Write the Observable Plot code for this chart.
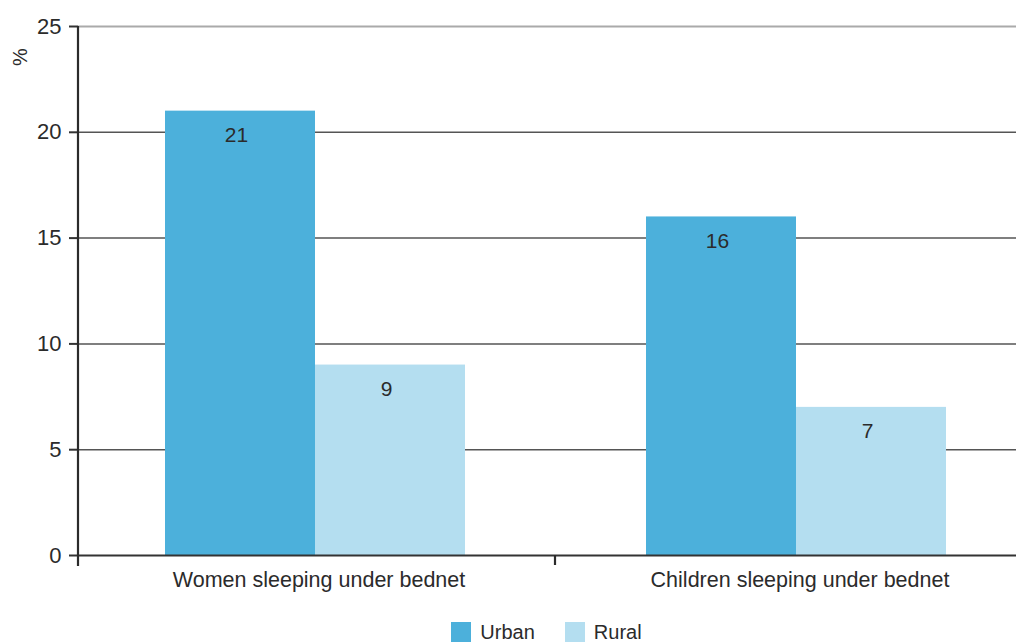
<!DOCTYPE html>
<html>
<head>
<meta charset="utf-8">
<script src="https://cdn.jsdelivr.net/npm/d3@7"></script>
<script src="https://cdn.jsdelivr.net/npm/@observablehq/plot@0.6"></script>
<style>
  html, body { margin: 0; padding: 0; background: #fff; overflow: hidden; }
  body { width: 1016px; height: 642px; font-family: "Liberation Sans", Arial, sans-serif; color: #2b2b2b; }
  #legend { display: flex; justify-content: center; align-items: center; padding-left: 77px; gap: 30px; margin-top: 12px; font-size: 20px; height: 20px; }
  #legend .item { display: flex; align-items: center; gap: 9px; }
  #legend .sw { width: 20px; height: 20px; display: inline-block; }
</style>
</head>
<body>
<div id="chart"></div>
<div id="legend"></div>
<script>
const categories = ["Women sleeping under bednet", "Children sleeping under bednet"];
const areas = ["Urban", "Rural"];
const urbanValues = [21, 16];
const ruralValues = [9, 7];
const yTicks = [0, 5, 10, 15, 20, 25];
const colors = ["#4cb0db", "#b4def0"];

const data = categories.flatMap((c, i) => [
  {category: c, area: "Urban", value: urbanValues[i]},
  {category: c, area: "Rural", value: ruralValues[i]}
]);

const plot = Plot.plot({
  width: 1016,
  height: 610,
  marginLeft: 77,
  marginRight: -24,
  marginTop: 26,
  marginBottom: 55,
  style: {fontFamily: "'Liberation Sans', Arial, sans-serif", fontSize: "20px", color: "#2b2b2b", background: "#fff"},
  fx: {domain: categories, padding: 0, label: null},
  x: {domain: areas, paddingInner: 0, paddingOuter: 0.594, align: 0.48, axis: null},
  y: {domain: [0, 25], label: null},
  color: {domain: areas, range: colors},
  marks: [
    Plot.gridY([5, 10, 15, 20], {stroke: "#555", strokeOpacity: 1, strokeWidth: 1.5}),
    Plot.gridY([25], {stroke: "#aaa", strokeOpacity: 1, strokeWidth: 2}),
    Plot.barY(data, {fx: "category", x: "area", y: "value", fill: "area"}),
    Plot.text(data, {fx: "category", x: "area", y: "value", text: d => String(d.value), dy: 24, dx: -4, fontSize: 21, fill: "#2b2b2b"}),
    Plot.ruleY([0], {stroke: "#333", strokeWidth: 2}),
    Plot.axisY({ticks: yTicks, tickSize: 9, tickPadding: 8, anchor: "left", fontSize: 22, tickFormat: d => String(d), label: null, stroke: "#333", strokeWidth: 2}),
    Plot.axisFx({anchor: "bottom", tickSize: 0, tickPadding: 16, label: null, fontSize: 21.5})
  ]
});

document.getElementById("chart").appendChild(plot);

// axis line and category boundary ticks, placed through the plot's own scales
const svg = d3.select(plot);
const fx = plot.scale("fx");
const y = plot.scale("y");
const y0 = y.apply(0), yTop = y.apply(25);
const left = fx.apply(categories[0]);
svg.append("line").attr("x1", left).attr("x2", left).attr("y1", yTop).attr("y2", y0 + 11)
  .attr("stroke", "#2b2b2b").attr("stroke-width", 2.2);
categories.slice(1).forEach(c => {
  const xb = fx.apply(c) - 4;
  svg.append("line").attr("x1", xb).attr("x2", xb).attr("y1", y0).attr("y2", y0 + 10)
    .attr("stroke", "#2b2b2b").attr("stroke-width", 2.2);
});
svg.append("text").text("%")
  .attr("transform", `translate(27, ${yTop + 31}) rotate(-90)`)
  .attr("text-anchor", "middle").attr("font-size", 20).attr("fill", "#2b2b2b");

// legend
const legend = d3.select("#legend");
areas.forEach((a, i) => {
  const it = legend.append("div").attr("class", "item");
  it.append("span").attr("class", "sw").style("background", colors[i]);
  it.append("span").text(a);
});
</script>
</body>
</html>
